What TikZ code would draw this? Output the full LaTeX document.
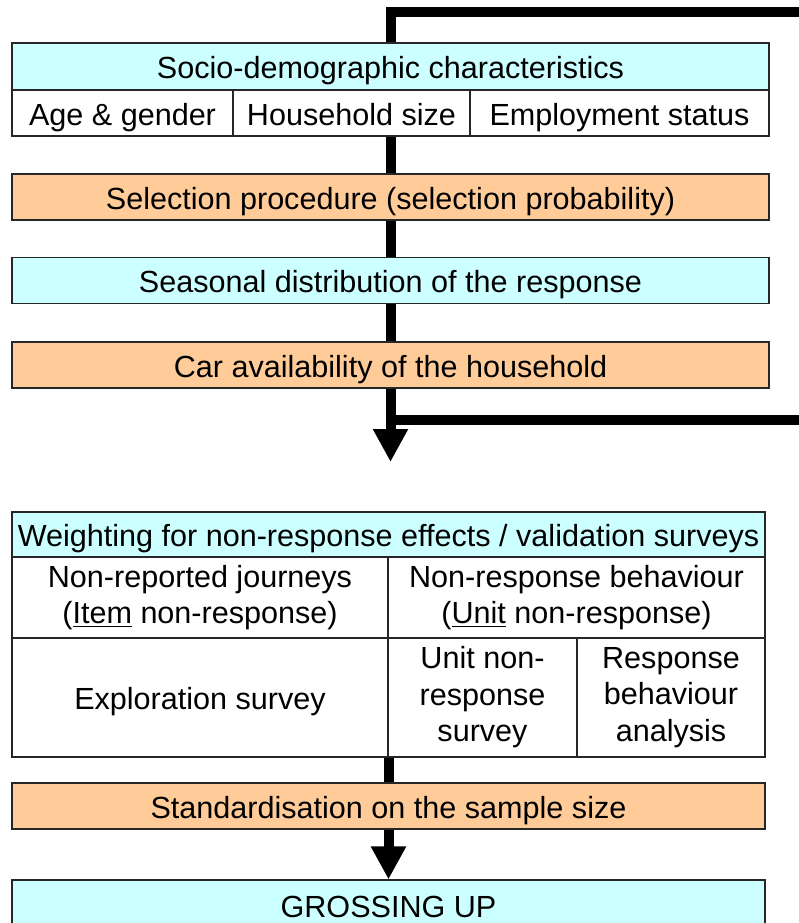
\documentclass[tikz,border=0pt]{standalone}
\usepackage{fontspec}
\setmainfont{Liberation Sans}
\usepackage{tikz}
\usetikzlibrary{shapes, arrows.meta, positioning}
\definecolor{paleCyan}{HTML}{CCFFFF}
\definecolor{paleOrange}{HTML}{FFCC99}

\begin{document}
\begin{tikzpicture}[
            x=0.02cm, y=-0.02cm,
            box/.style={rectangle, draw=black!85, line width=0.6pt, inner sep=0pt,
                        align=center, font=\fontsize{17.4}{20.8}\selectfont},
            oneline/.style={text height=16.5pt, text depth=2.3pt},
            cyanbox/.style={box, oneline, fill=paleCyan},
            orangebox/.style={box, oneline, fill=paleOrange},
            cell/.style={box, fill=white},
            flow/.style={line width=0.2cm, line join=miter},
            bigarrow/.style={flow, -{Triangle[length=0.66cm, width=0.66cm]}}
        ]
            \useasboundingbox (0,0) rectangle (798,923);

            % Socio-demographic block
            \node[cyanbox, minimum width=757*0.02cm, minimum height=47*0.02cm] (socio) at (390.5, 66.5) {Socio-demographic characteristics};
            \node[cell, oneline, minimum width=221*0.02cm, minimum height=46*0.02cm] (age) at (122.5, 113) {Age \& gender};
            \node[cell, oneline, minimum width=237*0.02cm, minimum height=46*0.02cm] (hh) at (351.5, 113) {Household size};
            \node[cell, oneline, minimum width=299*0.02cm, minimum height=46*0.02cm] (emp) at (619.5, 113) {Employment status};

            % Single steps
            \node[orangebox, minimum width=757*0.02cm, minimum height=46*0.02cm] (select) at (390.5, 197) {Selection procedure (selection probability)};
            \node[cyanbox, minimum width=757*0.02cm, minimum height=46*0.02cm] (season) at (390.5, 280.5) {Seasonal distribution of the response};
            \node[orangebox, minimum width=757*0.02cm, minimum height=46*0.02cm] (car) at (390.5, 365) {Car availability of the household};

            % Weighting block
            \node[cyanbox, minimum width=753*0.02cm, minimum height=45*0.02cm] (weight) at (388.5, 534.5) {Weighting for non-response effects / validation surveys};
            \node[cell, minimum width=376*0.02cm, minimum height=81*0.02cm] (nonrep) at (200, 597.5) {Non-reported journeys\\(\underline{Item} non-response)};
            \node[cell, minimum width=377*0.02cm, minimum height=81*0.02cm] (nonresp) at (576.5, 597.5) {Non-response behaviour\\(\underline{Unit} non-response)};
            \node[cell, oneline, minimum width=376*0.02cm, minimum height=119*0.02cm] (explo) at (200, 697.5) {Exploration survey};
            \node[cell, minimum width=189*0.02cm, minimum height=119*0.02cm] (unitsurv) at (482.5, 697.5) {Unit non-\\response\\survey};
            \node[cell, minimum width=188*0.02cm, minimum height=119*0.02cm] (respan) at (671, 697.5) {Response\\behaviour\\analysis};

            % Final steps
            \node[orangebox, minimum width=753*0.02cm, minimum height=46*0.02cm] (std) at (388.5, 806) {Standardisation on the sample size};
            \node[cyanbox, minimum width=753*0.02cm, minimum height=50*0.02cm] (gross) at (388.5, 905) {GROSSING UP};

            % Loop ends
            \coordinate (loopin) at (810, 12);
            \coordinate (loopout) at (810, 420);
            \coordinate (split) at (390.5, 420);
            \coordinate (tip) at (390.5, 462);

            % Connections
            \draw[flow] (loopin) -| (socio.north);
            \draw[flow] (socio.south |- hh.south) -- (select.north);
            \draw[flow] (select) -- (season);
            \draw[flow] (season) -- (car);
            \draw[bigarrow] (car.south) -- (tip);
            \draw[flow] ([xshift=-0.1cm]split) -- (loopout);
            \draw[flow] (weight.south |- unitsurv.south) -- (std.north);
            \draw[bigarrow] (std.south) -- (gross.north);
        \end{tikzpicture}
\end{document}
